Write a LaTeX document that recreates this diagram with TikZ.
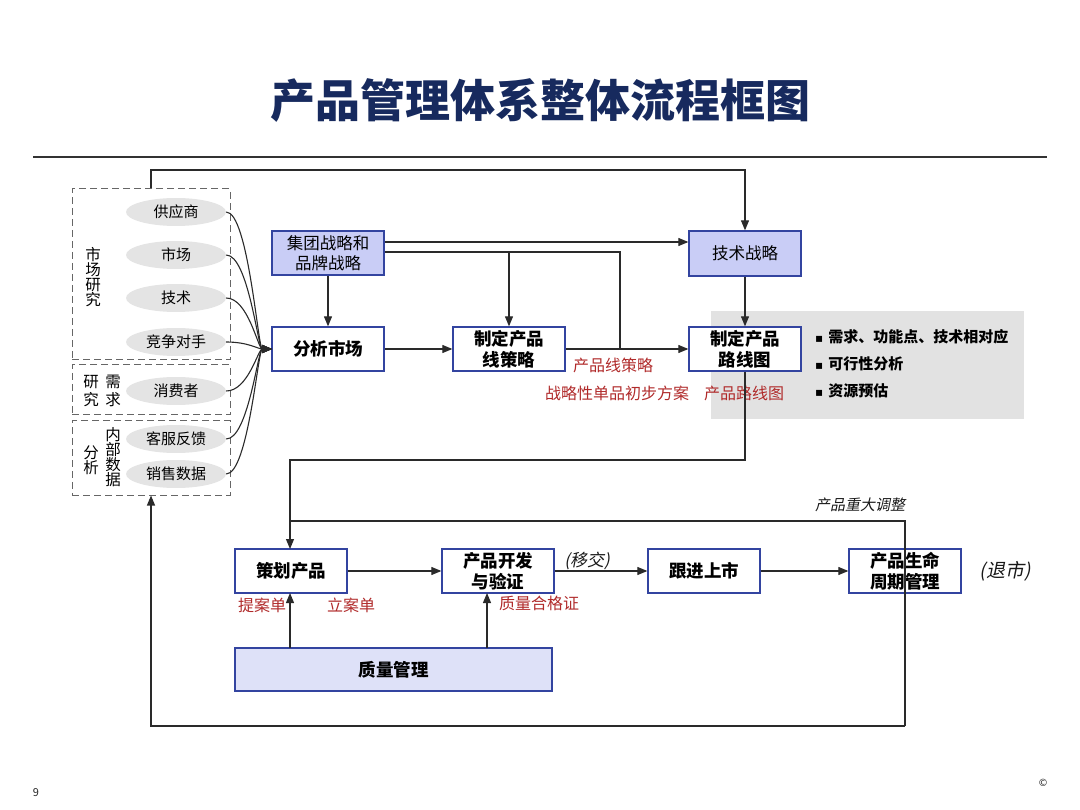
\documentclass[tikz,border=0pt]{standalone}
\usepackage{fontspec}
\setmainfont{Noto Sans CJK SC}
\newfontfamily\cjkit[FakeSlant=0.2]{Noto Sans CJK SC}
\newfontfamily\dejavu{DejaVu Sans}
\usetikzlibrary{arrows.meta,shapes.geometric}
\definecolor{navy}{HTML}{172A5E}
\definecolor{boxblue}{HTML}{3344A0}
\definecolor{lav}{HTML}{C9CDF6}
\definecolor{lavlight}{HTML}{DEE1F8}
\definecolor{redlbl}{HTML}{B02A2A}
\definecolor{linegray}{HTML}{2A2A2A}
\definecolor{ellgray}{HTML}{E4E4E4}
\definecolor{panelgray}{HTML}{E2E2E2}
\begin{document}
\begin{tikzpicture}[x=1pt,y=-1pt,
  procbox/.style={draw=boxblue,line width=1.3pt,fill=white,minimum width=112pt,minimum height=44pt,inner sep=0pt,align=center,font=\fontsize{17.5}{21}\selectfont\bfseries},
  stratbox/.style={procbox,fill=lav,font=\fontsize{16.5}{20}\selectfont},
  ell/.style={ellipse,fill=ellgray,draw=none,minimum width=100pt,minimum height=28pt,inner sep=0pt,font=\fontsize{15}{17}\selectfont},
  dbox/.style={draw=gray!80!black,dashed,dash pattern=on 7pt off 4pt,line width=1pt,minimum width=158pt,inner sep=0pt},
  conn/.style={draw=linegray,line width=1.1pt},
  arr/.style={conn,-{Triangle[length=10pt,width=8pt]}},
  redtxt/.style={text=redlbl,font=\fontsize{16}{18}\selectfont,inner sep=0pt},
  vtxt/.style={font=\fontsize{15.5}{15}\selectfont,align=center,inner sep=0pt},
  ittxt/.style={font=\cjkit\fontsize{17}{19}\selectfont,inner sep=0pt},
  bul/.style={font=\fontsize{15}{17}\selectfont\bfseries,anchor=west,inner sep=0pt}
]
\useasboundingbox (0,0) rectangle (1080,810);
% title
\node[text=navy,font=\fontsize{45}{48}\selectfont\bfseries] (title) at (540,101) {产品管理体系整体流程框图};
\draw[line width=1.2pt,color=gray!40!black] (33,157) -- (1047,157);
% gray panel
\node[fill=panelgray,minimum width=313pt,minimum height=108pt,inner sep=0pt] (panel) at (867.5,365) {};
% dashed boxes
\node[dbox,minimum height=171pt] (mr) at (151,274.5) {};
\node[dbox,minimum height=50pt] (dr) at (151,390) {};
\node[dbox,minimum height=74pt] (ia) at (151,458) {};
% ellipses
\node[ell] (e1) at (176,212) {供应商};
\node[ell] (e2) at (176,255) {市场};
\node[ell] (e3) at (176,298) {技术};
\node[ell] (e4) at (176,342) {竞争对手};
\node[ell] (e5) at (176,391) {消费者};
\node[ell] (e6) at (176,439) {客服反馈};
\node[ell] (e7) at (176,474) {销售数据};
% vertical labels
\node[vtxt] (lmr) at (93,277) {市\\场\\研\\究};
\node[vtxt,font=\fontsize{15.5}{18}\selectfont] (ldr1) at (113,391) {需\\求};
\node[vtxt,font=\fontsize{15.5}{18}\selectfont] (ldr2) at (91,391) {研\\究};
\node[vtxt] (lia1) at (113,457) {内\\部\\数\\据};
\node[vtxt] (lia2) at (91,460) {分\\析};
% top boxes
\node[stratbox] (grp) at (328,253) {集团战略和\\品牌战略};
\node[procbox] (ana) at (328,349) {分析市场};
\node[procbox] (pls) at (509,349) {制定产品\\线策略};
\node[stratbox,minimum height=45pt] (tech) at (745,253.5) {技术战略};
\node[procbox] (rm) at (745,349) {制定产品\\路线图};
\coordinate (conv) at (272,349);
% curves
\foreach \e in {e1,e2,e3,e4,e5,e6,e7}{
  \draw[arr] (\e.east) .. controls +(22,0) and (258,349) .. (conv);
}
% connectors top
\draw[arr] (mr.north) -- (151,170) -- (745,170) -- (tech.north);
\draw[arr] (grp.east |- 0,242) -- (tech.west |- 0,242);
\draw[conn] (grp.east |- 0,252) -- (620,252) -- (620,349);
\draw[arr] (509,252) -- (pls.north);
\draw[arr] (grp.south) -- (ana.north);
\draw[arr] (ana.east) -- (pls.west);
\draw[arr] (pls.east) -- (rm.west);
\draw[arr] (tech.south) -- (rm.north);
% red labels
\node[redtxt] (l1) at (613,365) {产品线策略};
\node[redtxt] (l2) at (617,393) {战略性单品初步方案};
\node[redtxt] (l3) at (744,393) {产品路线图};
% bullets
\node[bul] (b1) at (815,337) {{\dejavu\fontsize{12}{12}\selectfont ▪}\hspace{5pt}需求、功能点、技术相对应};
\node[bul] (b2) at (815,364) {{\dejavu\fontsize{12}{12}\selectfont ▪}\hspace{5pt}可行性分析};
\node[bul] (b3) at (815,391) {{\dejavu\fontsize{12}{12}\selectfont ▪}\hspace{5pt}资源预估};
% bottom boxes
\node[procbox] (plan) at (291,571) {策划产品};
\node[procbox] (dev) at (498,571) {产品开发\\与验证};
\node[procbox] (mkt) at (704,571) {跟进上市};
\node[procbox] (plc) at (905,571) {产品生命\\周期管理};
\node[procbox,fill=lavlight,minimum width=317pt,minimum height=43pt] (qm) at (393.5,669.5) {质量管理};
% bottom connectors
\draw[arr] (rm.south) -- (745,460) -- (290,460) -- (290,549);
\draw[conn] (905,726) -- (905,521) -- (290,521);
\draw[arr] (905,726) -- (151,726) -- (ia.south);
\draw[arr] (plan.east) -- (dev.west);
\draw[arr] (dev.east) -- (mkt.west);
\draw[arr] (mkt.east) -- (plc.west);
\draw[arr] (290,648) -- (290,593);
\draw[arr] (487,648) -- (487,593);
% italic labels
\node[ittxt,text=gray!20!black,font=\cjkit\fontsize{15}{17}\selectfont] (adj) at (860,505) {产品重大调整};
\node[ittxt,text=gray!20!black] (hand) at (587,561) {(移交)};
\node[ittxt,text=gray!20!black,font=\cjkit\fontsize{19}{21}\selectfont] (exit) at (1005,571) {(退市)};
\node[redtxt] (r1) at (262,605) {提案单};
\node[redtxt] (r2) at (351,605) {立案单};
\node[redtxt] (r3) at (539,603) {质量合格证};
% page marks
\node[font=\fontsize{11}{12}\selectfont,text=gray!30!black] (pg) at (36,793) {9};
\node[font=\dejavu\fontsize{10}{11}\selectfont,text=gray!30!black] (cp) at (1043,783) {©};
\end{tikzpicture}
\end{document}
